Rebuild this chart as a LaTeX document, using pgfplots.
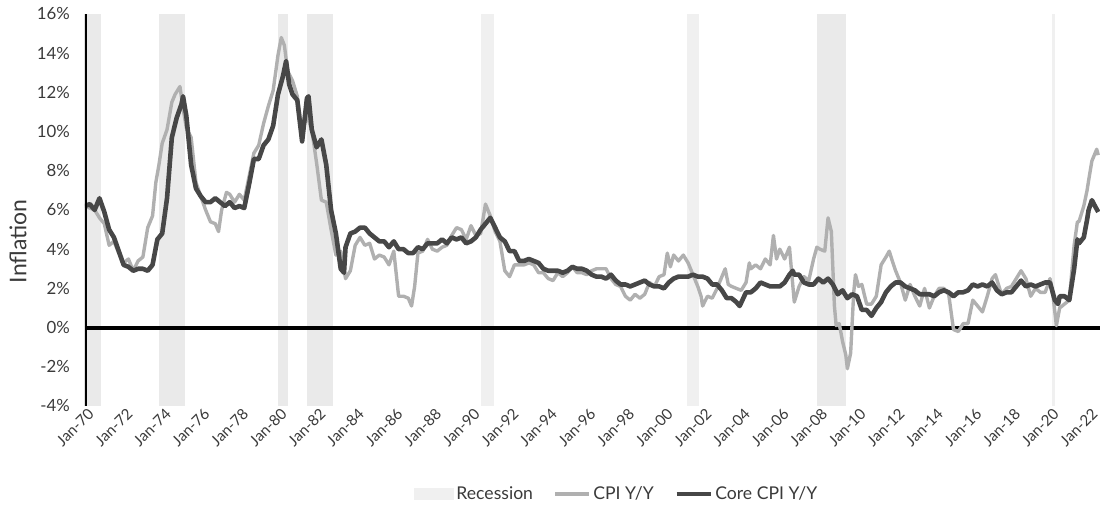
\documentclass[border=0pt]{standalone}
\usepackage{fontspec}
\setmainfont{Lato}
\usepackage{pgfplots}
\pgfplotsset{compat=1.18}
\definecolor{recess}{HTML}{EAEAEA}
\definecolor{cpi}{HTML}{B0B0B0}
\definecolor{core}{HTML}{474747}
\definecolor{txt}{HTML}{3A3A3A}
\begin{document}
\begin{tikzpicture}
\path[use as bounding box] (-42.5pt,-50pt) rectangle (507.5pt,203pt);
\begin{axis}[
  at={(0,0)}, anchor=south west,
  scale only axis, width=507.5pt, height=196pt,
  xmin=1970, xmax=2022.59, ymin=-4, ymax=16,
  axis line style={draw=none},
  tick style={draw=none},
  ytick={-4,-2,...,16},
  yticklabels={-4\%,-2\%,0\%,2\%,4\%,6\%,8\%,10\%,12\%,14\%,16\%},
  xtick={1970,1972,...,2022},
  xticklabels={Jan-70,Jan-72,Jan-74,Jan-76,Jan-78,Jan-80,Jan-82,Jan-84,Jan-86,Jan-88,Jan-90,Jan-92,Jan-94,Jan-96,Jan-98,Jan-00,Jan-02,Jan-04,Jan-06,Jan-08,Jan-10,Jan-12,Jan-14,Jan-16,Jan-18,Jan-20,Jan-22},
  x tick label style={rotate=45, anchor=north east, font=\fontsize{7.6}{8}\selectfont, text=txt, inner sep=1pt, xshift=1.5pt},
  y tick label style={font=\fontsize{8.4}{9}\selectfont, text=txt, xshift=-4pt},
  ylabel={Inflation},
  ylabel style={at={(axis description cs:-0.066,0.42)}, anchor=center, font=\fontsize{11.5}{13}\selectfont, text=txt},
  legend style={at={(0.524,-0.225)}, anchor=center, legend columns=3, draw=none, fill=none,
    font=\fontsize{8.8}{10}\selectfont, text=txt,
    nodes={inner sep=1.2pt},
    /tikz/every even column/.append style={column sep=9pt}},
  legend cell align=left,
  line join=round,
]
% recessions
\addplot[fill=recess, draw=none, area legend,
  legend image code/.code={\fill[recess!70] (0pt,-3pt) rectangle (20pt,3pt);}]
  coordinates {(1970,-4) (1970,16) (1970.83,16) (1970.83,-4)} -- cycle;
\addlegendentry{Recession}
\addplot[fill=recess, draw=none, forget plot] coordinates {(1973.83,-4) (1973.83,16) (1975.17,16) (1975.17,-4)} -- cycle;
\addplot[fill=recess, draw=none, forget plot] coordinates {(1980.0,-4) (1980.0,16) (1980.5,16) (1980.5,-4)} -- cycle;
\addplot[fill=recess, draw=none, forget plot] coordinates {(1981.5,-4) (1981.5,16) (1982.83,16) (1982.83,-4)} -- cycle;
\addplot[fill=recess!70, draw=none, forget plot] coordinates {(1990.5,-4) (1990.5,16) (1991.17,16) (1991.17,-4)} -- cycle;
\addplot[fill=recess!70, draw=none, forget plot] coordinates {(2001.17,-4) (2001.17,16) (2001.83,16) (2001.83,-4)} -- cycle;
\addplot[fill=recess, draw=none, forget plot] coordinates {(2007.92,-4) (2007.92,16) (2009.42,16) (2009.42,-4)} -- cycle;
\addplot[fill=recess!70, draw=none, forget plot] coordinates {(2020.08,-4) (2020.08,16) (2020.25,16) (2020.25,-4)} -- cycle;
% zero line
\addplot[black, line width=2pt, forget plot] coordinates {(1970,0) (2022.59,0)};
% CPI
\addplot[cpi, line width=1.7pt] coordinates {
(1970.00,6.2) (1970.25,6.1) (1970.50,6.0) (1970.75,5.6) (1971.00,5.3) (1971.25,4.2) (1971.50,4.4) (1971.75,3.8)
(1972.00,3.3) (1972.25,3.5) (1972.50,2.9) (1972.75,3.4) (1973.00,3.6) (1973.25,5.1) (1973.50,5.7) (1973.67,7.4)
(1973.83,8.3) (1974.00,9.4) (1974.25,10.1) (1974.50,11.5) (1974.67,11.9) (1974.92,12.3) (1975.08,11.2) (1975.25,10.2)
(1975.50,9.7) (1975.75,7.4) (1976.00,6.7) (1976.25,6.0) (1976.50,5.4) (1976.75,5.3) (1976.92,4.9) (1977.08,6.0)
(1977.33,6.9) (1977.50,6.8) (1977.75,6.4) (1978.00,6.8) (1978.25,6.5) (1978.50,7.7) (1978.75,8.9) (1979.00,9.3)
(1979.25,10.4) (1979.50,11.3) (1979.75,12.1) (1980.00,13.9) (1980.17,14.8) (1980.33,14.4) (1980.50,13.1) (1980.75,12.6)
(1981.00,11.8) (1981.25,10.0) (1981.50,10.8) (1981.75,10.1) (1982.00,8.4) (1982.25,6.5) (1982.50,6.4) (1982.75,5.0)
(1983.00,3.7) (1983.25,3.9) (1983.50,2.5) (1983.75,2.9) (1984.00,4.2) (1984.25,4.6) (1984.50,4.2) (1984.75,4.3)
(1985.00,3.5) (1985.25,3.7) (1985.50,3.6) (1985.75,3.2) (1986.00,3.9) (1986.25,1.6) (1986.50,1.6) (1986.75,1.5)
(1986.92,1.1) (1987.08,2.1) (1987.25,3.8) (1987.50,3.9) (1987.75,4.5) (1988.00,4.0) (1988.25,3.9) (1988.50,4.1)
(1988.75,4.2) (1989.00,4.7) (1989.25,5.1) (1989.50,5.0) (1989.75,4.5) (1990.00,5.2) (1990.25,4.7) (1990.50,4.8)
(1990.75,6.3) (1991.00,5.7) (1991.25,4.9) (1991.50,4.4) (1991.75,2.9) (1992.00,2.6) (1992.25,3.2) (1992.50,3.2)
(1992.75,3.2) (1993.00,3.3) (1993.25,3.2) (1993.50,2.8) (1993.75,2.8) (1994.00,2.5) (1994.25,2.4) (1994.50,2.8)
(1994.75,2.6) (1995.00,2.8) (1995.25,3.1) (1995.50,2.8) (1995.75,2.8) (1996.00,2.7) (1996.25,2.9) (1996.50,3.0)
(1996.75,3.0) (1997.00,3.0) (1997.25,2.5) (1997.50,2.2) (1997.75,2.1) (1998.00,1.6) (1998.25,1.4) (1998.50,1.7)
(1998.75,1.5) (1999.00,1.7) (1999.25,2.3) (1999.50,2.1) (1999.75,2.6) (2000.00,2.7) (2000.17,3.8) (2000.33,3.1)
(2000.50,3.7) (2000.75,3.4) (2001.00,3.7) (2001.25,3.3) (2001.50,2.7) (2001.75,2.1) (2001.92,1.6) (2002.00,1.1)
(2002.25,1.6) (2002.50,1.5) (2002.75,2.0) (2003.00,2.6) (2003.17,3.0) (2003.33,2.2) (2003.50,2.1) (2003.75,2.0)
(2004.00,1.9) (2004.25,2.3) (2004.42,3.3) (2004.50,3.0) (2004.75,3.2) (2005.00,3.0) (2005.25,3.5) (2005.50,3.2)
(2005.67,4.7) (2005.83,3.5) (2006.00,4.0) (2006.25,3.5) (2006.50,4.1) (2006.75,1.3) (2007.00,2.1) (2007.25,2.6)
(2007.50,2.4) (2007.75,3.5) (2007.92,4.1) (2008.08,4.0) (2008.33,3.9) (2008.50,5.6) (2008.67,4.9) (2008.83,1.1)
(2008.92,0.1) (2009.08,0.2) (2009.25,-0.7) (2009.42,-1.4) (2009.50,-2.1) (2009.67,-1.3) (2009.83,1.8) (2009.92,2.7)
(2010.08,2.1) (2010.25,2.2) (2010.50,1.2) (2010.75,1.2) (2011.00,1.6) (2011.25,3.2) (2011.50,3.6) (2011.67,3.9)
(2011.83,3.4) (2012.00,2.9) (2012.25,2.3) (2012.50,1.4) (2012.75,2.2) (2013.00,1.6) (2013.25,1.1) (2013.50,2.0)
(2013.75,1.0) (2014.00,1.6) (2014.25,2.0) (2014.50,2.0) (2014.75,1.7) (2015.00,-0.1) (2015.25,-0.2) (2015.50,0.2)
(2015.75,0.2) (2016.00,1.4) (2016.25,1.1) (2016.50,0.8) (2016.75,1.6) (2017.00,2.5) (2017.17,2.7) (2017.42,1.9)
(2017.50,1.7) (2017.75,2.0) (2018.00,2.1) (2018.25,2.5) (2018.50,2.9) (2018.75,2.5) (2019.00,1.6) (2019.25,2.0)
(2019.50,1.8) (2019.75,1.8) (2020.00,2.5) (2020.17,1.5) (2020.33,0.1) (2020.50,1.0) (2020.75,1.2) (2021.00,1.4)
(2021.25,4.2) (2021.42,5.4) (2021.50,5.4) (2021.75,6.2) (2021.92,7.0) (2022.00,7.5) (2022.17,8.5) (2022.42,9.1)
(2022.50,8.8)
};
\addlegendentry{CPI Y/Y}
% Core CPI
\addplot[core, line width=2.3pt] coordinates {
(1970.00,6.2) (1970.25,6.3) (1970.50,6.0) (1970.75,6.6) (1971.00,5.9) (1971.25,5.0) (1971.50,4.6) (1971.75,3.9)
(1972.00,3.2) (1972.25,3.1) (1972.50,2.9) (1972.75,3.0) (1973.00,3.0) (1973.25,2.9) (1973.50,3.2) (1973.75,4.5)
(1974.00,4.8) (1974.25,6.6) (1974.50,9.7) (1974.75,10.7) (1975.00,11.4) (1975.08,11.8) (1975.25,10.8) (1975.50,8.3)
(1975.75,7.1) (1976.00,6.7) (1976.25,6.4) (1976.50,6.4) (1976.75,6.6) (1977.00,6.4) (1977.25,6.2) (1977.50,6.4)
(1977.75,6.1) (1978.00,6.2) (1978.25,6.1) (1978.50,7.3) (1978.75,8.6) (1979.00,8.6) (1979.25,9.3) (1979.50,9.6)
(1979.75,10.3) (1980.00,11.9) (1980.25,12.8) (1980.42,13.6) (1980.58,12.4) (1980.75,11.9) (1981.00,11.6) (1981.25,9.5)
(1981.50,11.7) (1981.58,11.8) (1981.75,10.1) (1982.00,9.2) (1982.25,9.6) (1982.50,8.3) (1982.75,6.0) (1983.00,4.8)
(1983.25,3.0) (1983.42,2.8) (1983.50,4.1) (1983.75,4.8) (1984.00,4.9) (1984.25,5.1) (1984.50,5.1) (1984.75,4.8)
(1985.00,4.6) (1985.25,4.4) (1985.50,4.4) (1985.75,4.1) (1986.00,4.4) (1986.25,4.0) (1986.50,4.0) (1986.75,3.8)
(1987.00,3.8) (1987.25,4.1) (1987.50,4.0) (1987.75,4.3) (1988.00,4.3) (1988.25,4.3) (1988.50,4.5) (1988.75,4.3)
(1989.00,4.6) (1989.25,4.5) (1989.50,4.6) (1989.75,4.3) (1990.00,4.4) (1990.25,4.6) (1990.50,5.0) (1990.75,5.3)
(1991.00,5.6) (1991.25,5.1) (1991.50,4.6) (1991.75,4.4) (1992.00,3.9) (1992.25,3.9) (1992.50,3.4) (1992.75,3.4)
(1993.00,3.5) (1993.25,3.4) (1993.50,3.3) (1993.75,3.0) (1994.00,2.9) (1994.25,2.9) (1994.50,2.9) (1994.75,2.8)
(1995.00,2.9) (1995.25,3.1) (1995.50,3.0) (1995.75,3.0) (1996.00,2.9) (1996.25,2.7) (1996.50,2.6) (1996.75,2.6)
(1997.00,2.5) (1997.25,2.7) (1997.50,2.4) (1997.75,2.2) (1998.00,2.2) (1998.25,2.1) (1998.50,2.2) (1998.75,2.3)
(1999.00,2.4) (1999.25,2.2) (1999.50,2.1) (1999.75,2.1) (2000.00,2.0) (2000.25,2.3) (2000.50,2.5) (2000.75,2.6)
(2001.00,2.6) (2001.25,2.6) (2001.50,2.7) (2001.75,2.6) (2002.00,2.6) (2002.25,2.5) (2002.50,2.2) (2002.75,2.2)
(2003.00,1.9) (2003.25,1.5) (2003.50,1.5) (2003.75,1.3) (2003.92,1.1) (2004.25,1.8) (2004.50,1.8) (2004.75,2.0)
(2005.00,2.3) (2005.25,2.2) (2005.50,2.1) (2005.75,2.1) (2006.00,2.1) (2006.25,2.3) (2006.50,2.7) (2006.67,2.9)
(2006.75,2.7) (2007.00,2.7) (2007.25,2.3) (2007.50,2.2) (2007.75,2.2) (2008.00,2.5) (2008.25,2.3) (2008.50,2.5)
(2008.75,2.2) (2009.00,1.7) (2009.25,1.9) (2009.50,1.5) (2009.75,1.7) (2010.00,1.6) (2010.25,0.9) (2010.50,0.9)
(2010.75,0.6) (2011.00,1.0) (2011.25,1.3) (2011.50,1.8) (2011.75,2.1) (2012.00,2.3) (2012.25,2.3) (2012.50,2.1)
(2012.75,2.0) (2013.00,1.9) (2013.25,1.7) (2013.50,1.7) (2013.75,1.7) (2014.00,1.6) (2014.25,1.8) (2014.50,1.9)
(2014.75,1.8) (2015.00,1.6) (2015.25,1.8) (2015.50,1.8) (2015.75,1.9) (2016.00,2.2) (2016.25,2.1) (2016.50,2.2)
(2016.75,2.1) (2017.00,2.3) (2017.25,1.9) (2017.50,1.7) (2017.75,1.8) (2018.00,1.8) (2018.25,2.1) (2018.50,2.4)
(2018.75,2.1) (2019.00,2.2) (2019.25,2.1) (2019.50,2.2) (2019.75,2.3) (2020.00,2.3) (2020.25,1.4) (2020.42,1.2)
(2020.50,1.6) (2020.75,1.6) (2021.00,1.4) (2021.25,3.0) (2021.42,4.5) (2021.50,4.3) (2021.75,4.6) (2021.92,5.5)
(2022.00,6.0) (2022.17,6.5) (2022.33,6.2) (2022.50,5.9)
};
\addlegendentry{Core CPI Y/Y}
% left spine
\addplot[black, line width=2.5pt, forget plot] coordinates {(1970,-4) (1970,16)};
\end{axis}
\end{tikzpicture}
\end{document}
